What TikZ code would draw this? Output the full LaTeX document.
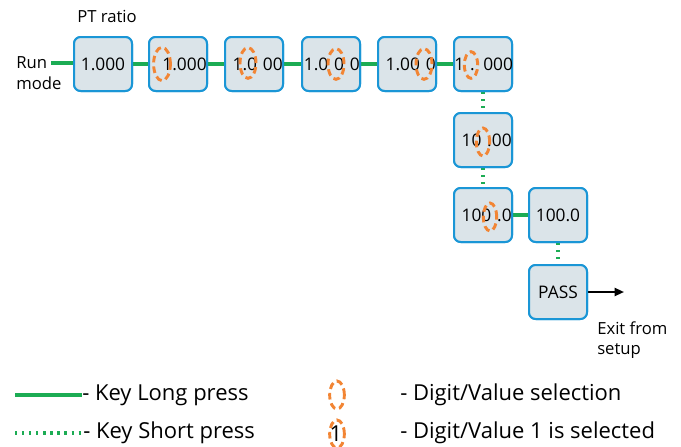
\documentclass[tikz,border=0pt]{standalone}
\usepackage{fontspec}
\setmainfont{Open Sans}
\usepackage{xcolor}
\definecolor{boxfill}{RGB}{219,228,233}
\definecolor{boxedge}{RGB}{26,150,214}
\definecolor{pressgreen}{RGB}{28,172,84}
\definecolor{selorange}{RGB}{242,133,52}
\usetikzlibrary{arrows.meta}

\begin{document}
\begin{tikzpicture}[x=0.75pt,y=-0.75pt,>={Triangle[length=7pt,width=6pt]},
  disp/.style={draw=boxedge,fill=boxfill,line width=1.5pt,rounded corners=5pt,
    minimum width=43.5pt,minimum height=40.5pt,inner sep=0pt,font=\fontsize{13}{15}\selectfont},
  dispsel/.style={disp,text width=43pt,align=right},
  txt/.style={inner sep=0pt,font=\fontsize{12.5}{15}\selectfont},
  legtxt/.style={inner sep=0pt,anchor=west,font=\fontsize{16.5}{19}\selectfont},
  longp/.style={draw=pressgreen,line width=2.3pt},
  shortp/.style={draw=pressgreen,line width=2.3pt,dash pattern=on 1.7pt off 3.6pt},
  selring/.style={draw=selorange,line width=2.2pt,dash pattern=on 5pt off 3pt}]
\useasboundingbox (0,0) rectangle (681,446);

% display boxes
\node[disp] (b1) at (103,64) {1.000};
\node[dispsel] (b2) at (178,64) {\mbox{1.000}};
\node[dispsel] (b3) at (254,64) {\mbox{1.0 00}};
\node[dispsel] (b4) at (331,64) {\mbox{1.0 0 0}};
\node[dispsel] (b5) at (407,64) {\mbox{1.00 0}};
\node[dispsel] (b6) at (483,64) {\mbox{1 . 000}};
\node[dispsel] (b7) at (483,140) {\mbox{10 .00}};
\node[dispsel] (b8) at (483,215) {\mbox{100 .0}};
\node[disp] (b9) at (558,215) {100.0};
\node[disp] (b10) at (558,292) {PASS};

\node[txt] (pt) at (107,16) {PT ratio};
\node[txt,anchor=west] (run) at (16,63) {Run};
\node[txt,anchor=west] (mode) at (16,83) {mode};
\node[txt,anchor=north west,align=left] (exit) at (597,321) {Exit from\\setup};
\coordinate (out) at (624,292);

% key presses
\draw[longp] (run.east) ++(3pt,0) -- (b1.west |- run.east);
\draw[longp] (b1) -- (b2);
\draw[longp] (b2) -- (b3);
\draw[longp] (b3) -- (b4);
\draw[longp] (b4) -- (b5);
\draw[longp] (b5) -- (b6);
\draw[shortp] (b6) -- (b7);
\draw[shortp] (b7) -- (b8);
\draw[longp] (b8) -- (b9);
\draw[shortp] (b9) -- (b10);
\draw[->,line width=1.5pt] (b10) -- (out);

% redraw boxes over the lines
\foreach \b/\t in {b1/1.000,b9/100.0,b10/PASS}
  \node[disp] at (\b) {\t};
\foreach \b/\t in {b2/1.000,b3/1.0 00,b4/1.0 0 0,b5/1.00 0,b6/1 . 000,b7/10 .00,b8/100 .0}
  \node[dispsel] at (\b) {\mbox{\t}};

% selected digit
\draw[selring,shift={(b2)}] (-16,0) ellipse [x radius=6.3pt,y radius=12.5pt];
\draw[selring,shift={(b3)}] (-6,-1) ellipse [x radius=6pt,y radius=11.5pt];
\draw[selring,shift={(b4)}] (5,0) ellipse [x radius=6pt,y radius=11.5pt];
\draw[selring,shift={(b5)}] (17,0) ellipse [x radius=6pt,y radius=11.5pt];
\draw[selring,shift={(b6)}] (-12,1) ellipse [x radius=5pt,y radius=10pt];
\draw[selring,shift={(b7)}] (0,2) ellipse [x radius=5pt,y radius=10.5pt];
\draw[selring,shift={(b8)}] (7,2) ellipse [x radius=5pt,y radius=10.5pt];

% legend
\node[legtxt] (klong) at (82,395) {- Key Long press};
\node[legtxt] (kshort) at (83,433) {- Key Short press};
\node[legtxt] (dsel) at (400,395) {- Digit/Value selection};
\node[legtxt] (done) at (400,433) {- Digit/Value 1 is selected};
\coordinate (la) at (15,395);
\coordinate (sa) at (15,433);
\draw[longp] (la) -- (klong.west);
\draw[shortp] (sa) -- (kshort.west);
\node[inner sep=0pt,font=\fontsize{16.5}{19}\selectfont] (one) at (336,434) {1};
\draw[selring] (337,395) ellipse [x radius=5.5pt,y radius=10.5pt];
\draw[selring] (337,434) ellipse [x radius=5.5pt,y radius=10.5pt];
\end{tikzpicture}
\end{document}
